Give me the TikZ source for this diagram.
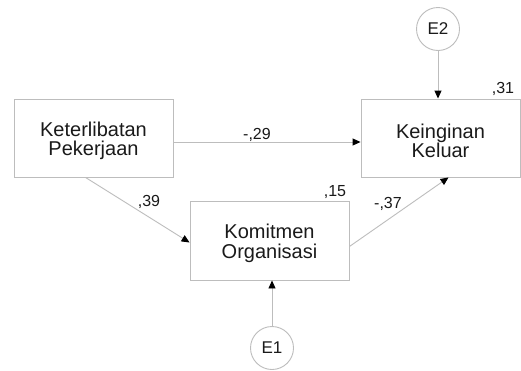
\documentclass[tikz,border=0pt]{standalone}
\usepackage{fontspec}
\setmainfont{Liberation Sans}
\usetikzlibrary{arrows.meta}
\definecolor{linegray}{HTML}{BDBDBD}
\definecolor{txt}{HTML}{1A1A1A}
\tikzset{
  var/.style={draw=linegray, line width=0.9pt, fill=white, minimum width=159pt, minimum height=78pt, inner sep=0pt},
  vartext/.style={align=center, font=\fontsize{20}{19.5}\selectfont, text=txt, inner sep=0pt},
  err/.style={circle, draw=linegray, line width=0.9pt, fill=white, minimum size=43pt, inner sep=0pt,
    font=\fontsize{17}{17}\selectfont, text=txt},
  path/.style={draw=linegray, line width=0.9pt, -{Triangle[length=8pt,width=7pt,color=black]}},
  coef/.style={font=\fontsize{16}{16}\selectfont, text=txt, inner sep=0pt}
}
\begin{document}
\begin{tikzpicture}[x=1pt,y=1pt]
\useasboundingbox[fill=white] (0,0) rectangle (521,-370);
\node[var] (KP) at (93.5,-138) {};
\node[var] (KK) at (440.5,-138) {};
\node[var, minimum height=79pt] (KO) at (269.5,-240.5) {};
\node[vartext] (tKP) at ([yshift=-3pt]KP.center) {Keterlibatan\\Pekerjaan};
\node[vartext] (tKK) at ([yshift=-3pt]KK.center) {Keinginan\\Keluar};
\node[vartext] (tKO) at ([yshift=-3pt]KO.center) {Komitmen\\Organisasi};
\node[err] (E2) at (438,-29) {E2};
\node[err] (E1) at (272,-348) {E1};
\draw[path] ([yshift=-4pt]KP.east) -- ([yshift=-4pt]KK.west);
\draw[path] (E2) -- (E2 |- KK.north);
\draw[path] ([xshift=-8pt]KP.south) -- ([yshift=-2pt]KO.west);
\draw[path] ([yshift=-6pt]KO.east) -- ([xshift=8pt]KK.south);
\draw[path] (E1) -- (E1 |- KO.south);
\node[coef] (c31) at (503,-89) {,31};
\node[coef] (c15) at (335,-192) {,15};
\node[coef] (c39) at (149,-202) {,39};
\node[coef] (c37) at (388,-204) {-,37};
\node[coef] (c29) at (257,-135) {-,29};
\end{tikzpicture}
\end{document}
